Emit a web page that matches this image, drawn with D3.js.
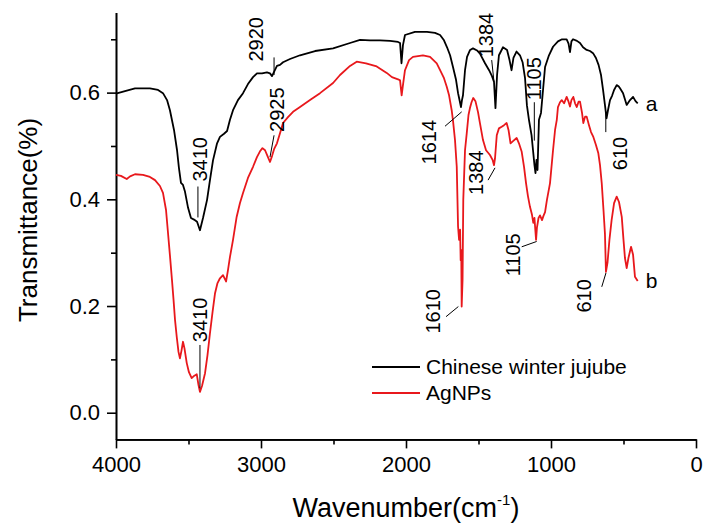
<!DOCTYPE html>
<html>
<head>
<meta charset="utf-8">
<script src="https://cdn.jsdelivr.net/npm/d3@7"></script>
<style>
  html, body { margin: 0; padding: 0; background: #fff; }
  svg { display: block; font-family: "Liberation Sans", Arial, sans-serif; }
</style>
</head>
<body>
<svg id="chart" width="705" height="525"></svg>
<script>
// FTIR spectra: [wavenumber (cm-1), transmittance]
const jujubeSpectrum = [
  [4000,0.598],[3938,0.603],[3869,0.608],[3766,0.608],[3710,0.605],[3676,0.599],[3648,0.586],
  [3628,0.567],[3600,0.530],[3579,0.492],[3566,0.459],[3552,0.431],[3538,0.427],[3524,0.414],
  [3503,0.384],[3483,0.365],[3462,0.362],[3441,0.358],[3421,0.342],[3400,0.365],[3372,0.399],
  [3352,0.436],[3331,0.473],[3303,0.505],[3283,0.517],[3255,0.523],[3234,0.528],[3214,0.549],
  [3193,0.567],[3159,0.586],[3124,0.599],[3090,0.616],[3055,0.629],[3028,0.636],[2993,0.636],
  [2959,0.638],[2938,0.636],[2924,0.631],[2910,0.639],[2890,0.650],[2869,0.652],[2848,0.657],
  [2800,0.663],[2731,0.670],[2627,0.678],[2503,0.683],[2386,0.693],[2317,0.699],[2248,0.698],
  [2179,0.698],[2110,0.697],[2055,0.695],[2041,0.693],[2031,0.655],[2021,0.689],[2007,0.708],
  [1938,0.714],[1855,0.714],[1800,0.712],[1765,0.708],[1738,0.698],[1717,0.685],[1696,0.670],
  [1676,0.648],[1655,0.624],[1641,0.599],[1627,0.581],[1621,0.573],[1614,0.586],[1607,0.595],
  [1593,0.642],[1579,0.667],[1558,0.680],[1538,0.683],[1510,0.679],[1490,0.673],[1455,0.655],
  [1427,0.642],[1407,0.631],[1393,0.620],[1383,0.571],[1372,0.633],[1359,0.670],[1331,0.685],
  [1303,0.680],[1286,0.661],[1272,0.642],[1259,0.665],[1238,0.677],[1214,0.670],[1196,0.657],
  [1179,0.627],[1166,0.576],[1152,0.549],[1134,0.520],[1124,0.492],[1114,0.464],[1107,0.449],
  [1100,0.474],[1093,0.455],[1083,0.549],[1069,0.562],[1055,0.605],[1041,0.648],[1014,0.670],
  [986,0.686],[952,0.696],[924,0.700],[892,0.700],[879,0.692],[869,0.676],[859,0.696],[848,0.700],
  [821,0.697],[800,0.693],[779,0.685],[754,0.680],[731,0.678],[710,0.674],[690,0.665],[672,0.652],
  [655,0.633],[641,0.605],[628,0.577],[617,0.552],[607,0.567],[593,0.586],[579,0.594],[565,0.605],
  [547,0.614],[534,0.612],[524,0.608],[503,0.599],[478,0.577],[455,0.586],[434,0.592],[417,0.584],
  [402,0.580]
];

const agnpsSpectrum = [
  [4000,0.446],[3966,0.444],[3926,0.438],[3903,0.443],[3869,0.447],[3814,0.446],[3766,0.442],
  [3731,0.436],[3697,0.425],[3676,0.412],[3655,0.380],[3641,0.336],[3628,0.295],[3614,0.249],
  [3603,0.211],[3593,0.174],[3581,0.142],[3569,0.114],[3559,0.102],[3548,0.117],[3538,0.133],
  [3528,0.121],[3512,0.093],[3497,0.076],[3478,0.065],[3462,0.069],[3443,0.072],[3431,0.052],
  [3421,0.039],[3407,0.050],[3386,0.074],[3369,0.108],[3352,0.149],[3334,0.189],[3317,0.224],
  [3300,0.243],[3283,0.252],[3262,0.258],[3241,0.246],[3228,0.267],[3214,0.292],[3193,0.324],
  [3168,0.367],[3145,0.393],[3124,0.412],[3090,0.440],[3055,0.461],[3028,0.479],[3007,0.490],
  [2990,0.496],[2972,0.492],[2952,0.479],[2938,0.470],[2924,0.481],[2910,0.494],[2890,0.505],
  [2869,0.524],[2848,0.543],[2814,0.554],[2779,0.564],[2731,0.573],[2662,0.586],[2593,0.599],
  [2503,0.618],[2455,0.633],[2386,0.650],[2340,0.658],[2276,0.655],[2202,0.649],[2133,0.637],
  [2097,0.629],[2055,0.625],[2041,0.623],[2030,0.595],[2021,0.614],[2007,0.642],[1979,0.661],
  [1952,0.667],[1883,0.670],[1834,0.667],[1788,0.655],[1759,0.639],[1738,0.627],[1719,0.611],
  [1703,0.595],[1685,0.567],[1676,0.548],[1662,0.511],[1650,0.461],[1641,0.349],[1634,0.324],
  [1627,0.343],[1623,0.286],[1619,0.305],[1616,0.199],[1610,0.249],[1605,0.399],[1593,0.492],
  [1581,0.524],[1569,0.558],[1559,0.571],[1548,0.582],[1536,0.590],[1521,0.584],[1503,0.563],
  [1490,0.543],[1469,0.511],[1448,0.492],[1421,0.483],[1403,0.474],[1393,0.464],[1386,0.477],
  [1374,0.520],[1359,0.533],[1340,0.536],[1324,0.539],[1306,0.543],[1293,0.530],[1279,0.505],
  [1262,0.509],[1237,0.515],[1221,0.505],[1202,0.489],[1186,0.461],[1172,0.430],[1159,0.406],
  [1145,0.386],[1131,0.371],[1122,0.356],[1114,0.365],[1108,0.342],[1103,0.324],[1097,0.347],
  [1086,0.365],[1076,0.370],[1062,0.361],[1052,0.369],[1041,0.376],[1028,0.399],[1007,0.430],
  [986,0.492],[972,0.530],[960,0.549],[952,0.573],[938,0.582],[926,0.586],[910,0.580],[892,0.592],
  [879,0.583],[869,0.574],[859,0.586],[846,0.592],[834,0.580],[822,0.573],[810,0.583],[800,0.583],
  [786,0.562],[777,0.543],[765,0.555],[754,0.555],[738,0.539],[724,0.526],[708,0.517],[690,0.502],
  [674,0.487],[662,0.464],[650,0.430],[638,0.380],[628,0.336],[621,0.264],[610,0.282],[597,0.324],
  [582,0.361],[565,0.393],[547,0.405],[531,0.395],[512,0.367],[500,0.324],[490,0.290],[478,0.271],
  [466,0.290],[448,0.311],[434,0.296],[421,0.255],[402,0.247]
];

const seriesNames = ["Chinese winter jujube", "AgNPs"];
const seriesTags = ["a", "b"];
const seriesColors = ["#000000", "#e8181c"];

const xMajorTicks = [4000, 3000, 2000, 1000, 0];
const xMinorTicks = [3500, 2500, 1500, 500];
const yMajorTicks = [0.0, 0.2, 0.4, 0.6];
const yMinorTicks = [0.1, 0.3, 0.5, 0.7];

// Peak labels: text centre and leader segment, in wavenumber / transmittance units
const peakLabels = [
  { text: "2920", at: [3034, 0.700], leader: [[2910, 0.666], [2910, 0.633]] },
  { text: "3410", at: [3424, 0.475], leader: [[3435, 0.424], [3435, 0.366]] },
  { text: "2925", at: [2893, 0.568], leader: [[2910, 0.520], [2938, 0.479]] },
  { text: "1614", at: [1838, 0.507], leader: [[1731, 0.537], [1616, 0.564]] },
  { text: "1384", at: [1445, 0.708], leader: [[1409, 0.661], [1393, 0.620]] },
  { text: "1105", at: [1114, 0.626], leader: [[1115, 0.582], [1115, 0.510]] },
  { text: "610",  at: [527, 0.486],  leader: [[622, 0.562], [622, 0.526]] },
  { text: "1384", at: [1520, 0.450], leader: [[1434, 0.436], [1386, 0.459]] },
  { text: "1105", at: [1265, 0.296], leader: [[1202, 0.311], [1099, 0.321]] },
  { text: "610",  at: [772, 0.219],  leader: [[650, 0.236], [621, 0.262]] },
  { text: "1610", at: [1817, 0.190], leader: [[1724, 0.180], [1639, 0.199]] },
  { text: "3410", at: [3419, 0.174], leader: [[3421, 0.127], [3421, 0.046]] }
];

const svg = d3.select("#chart");
const plotLeft = 116, plotRight = 696, plotTop = 12.6, plotBottom = 439.4;

const x = d3.scaleLinear().domain([4000, 0]).range([plotLeft, plotRight]);
const y = d3.scaleLinear().domain([-0.05, 0.75]).range([plotBottom, plotTop]);

// Axes
const axisStyle = g => {
  g.selectAll("path.domain").attr("stroke", "#000").attr("stroke-width", 1.6);
  g.selectAll(".tick line").attr("stroke", "#000").attr("stroke-width", 1.6);
};

svg.append("g")
  .attr("transform", `translate(0,${plotBottom})`)
  .call(d3.axisBottom(x).tickValues(xMinorTicks).tickSize(5).tickSizeOuter(0).tickFormat(""))
  .call(axisStyle);
svg.append("g")
  .attr("transform", `translate(0,${plotBottom})`)
  .call(d3.axisBottom(x).tickValues(xMajorTicks).tickSize(9).tickSizeOuter(0).tickPadding(8).tickFormat(d3.format("d")))
  .call(axisStyle)
  .call(g => g.selectAll("text").attr("font-size", 22).attr("fill", "#000")
    .attr("font-family", "Liberation Sans, Arial, sans-serif"));

svg.append("g")
  .attr("transform", `translate(${plotLeft},0)`)
  .call(d3.axisLeft(y).tickValues(yMinorTicks).tickSize(5).tickSizeOuter(0).tickFormat(""))
  .call(axisStyle);
svg.append("g")
  .attr("transform", `translate(${plotLeft},0)`)
  .call(d3.axisLeft(y).tickValues(yMajorTicks).tickSize(9).tickSizeOuter(0).tickPadding(7).tickFormat(d3.format(".1f")))
  .call(axisStyle)
  .call(g => g.selectAll("text").attr("font-size", 22).attr("fill", "#000")
    .attr("font-family", "Liberation Sans, Arial, sans-serif"));

// Axis titles
svg.append("text")
  .attr("transform", `translate(37,220) rotate(-90)`)
  .attr("text-anchor", "middle")
  .attr("font-size", 26)
  .attr("fill", "#000")
  .text("Transmittance(%)");

const xt = svg.append("text")
  .attr("x", 406).attr("y", 517)
  .attr("text-anchor", "middle")
  .attr("font-size", 27)
  .attr("fill", "#000");
xt.append("tspan").text("Wavenumber(cm");
xt.append("tspan").attr("font-size", 15).attr("dy", -12).text("-1");
xt.append("tspan").attr("dy", 12).text(")");

// Spectra
const line = d3.line().x(d => x(d[0])).y(d => y(d[1]));
[jujubeSpectrum, agnpsSpectrum].forEach((data, i) => {
  svg.append("path")
    .datum(data)
    .attr("fill", "none")
    .attr("stroke", seriesColors[i])
    .attr("stroke-width", 1.8)
    .attr("stroke-linejoin", "round")
    .attr("d", line);
  const end = data[data.length - 1];
  svg.append("text")
    .attr("x", x(end[0]) + 8)
    .attr("y", y(end[1]))
    .attr("dy", "0.35em")
    .attr("font-size", 21)
    .attr("fill", "#000")
    .text(seriesTags[i]);
});

// Peak labels with leader lines
peakLabels.forEach(p => {
  svg.append("line")
    .attr("x1", x(p.leader[0][0])).attr("y1", y(p.leader[0][1]))
    .attr("x2", x(p.leader[1][0])).attr("y2", y(p.leader[1][1]))
    .attr("stroke", "#000").attr("stroke-width", 1);
  svg.append("text")
    .attr("transform", `translate(${x(p.at[0])},${y(p.at[1])}) rotate(-90)`)
    .attr("text-anchor", "middle")
    .attr("dy", "0.35em")
    .attr("font-size", 20)
    .attr("fill", "#000")
    .text(p.text);
});

// Legend
const legend = svg.append("g");
seriesNames.forEach((name, i) => {
  const ly = 367 + i * 26;
  legend.append("line")
    .attr("x1", 372).attr("x2", 420).attr("y1", ly).attr("y2", ly)
    .attr("stroke", seriesColors[i]).attr("stroke-width", 2);
  legend.append("text")
    .attr("x", 426).attr("y", ly).attr("dy", "0.35em")
    .attr("font-size", 21).attr("fill", "#000")
    .text(name);
});
</script>
</body>
</html>
